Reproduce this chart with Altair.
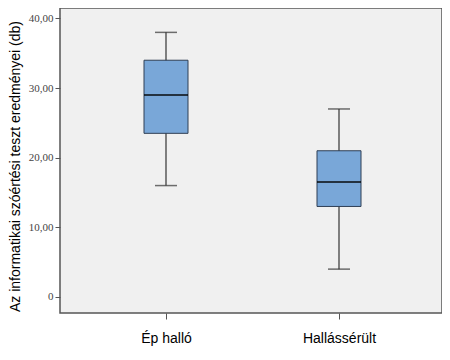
import altair as alt
import pandas as pd

groups = ["Ép halló", "Hallássérült"]
whisker_low = [16.0, 4.0]
q1 = [23.5, 13.0]
median = [29.0, 16.5]
q3 = [34.0, 21.0]
whisker_high = [38.0, 27.0]

df = pd.DataFrame({
    "group": groups,
    "lo": whisker_low,
    "q1": q1,
    "med": median,
    "q3": q3,
    "hi": whisker_high,
})

x_scale = alt.Scale(type="point", domain=groups, padding=0, range=[106, 279])
y_scale = alt.Scale(domain=[-2.3, 41.5], nice=False, zero=False)

x_enc = alt.X("group:N", scale=x_scale, sort=groups, axis=alt.Axis(
    title=None, labelFont="Liberation Sans", labelFontSize=14, labelColor="#000000",
    labelAngle=0, tickColor="#555555", tickSize=6, labelPadding=12, domain=False, grid=False))

y_axis = alt.Axis(
    values=[0, 10, 20, 30, 40],
    labelExpr="datum.value == 0 ? '0' : replace(format(datum.value, '.2f'), '.', ',')",
    labelFont="Liberation Serif", labelFontSize=11, labelColor="#444444",
    tickColor="#555555", tickSize=5, labelPadding=2, domain=False, grid=False,
    title="Az informatikai szóértési teszt eredményei (db)",
    titleFont="Liberation Sans", titleFontSize=14, titleFontWeight="normal", titleColor="#000000",
    titleAngle=-90, titleX=-45, titleY=158, titleAlign="center", titleBaseline="middle",
)

base = alt.Chart(df)

whisker = base.mark_rule(color="#333333", strokeWidth=1.2).encode(
    x=x_enc,
    y=alt.Y("lo:Q", scale=y_scale, axis=y_axis),
    y2="hi:Q",
)

box = base.mark_bar(size=44, color="#79a7d8", stroke="#2f3f55", strokeWidth=1).encode(
    x=alt.X("group:N", scale=x_scale, sort=groups),
    y=alt.Y("q1:Q", scale=y_scale),
    y2="q3:Q",
)

med = base.mark_tick(size=44, thickness=2, color="#000000").encode(
    x=alt.X("group:N", scale=x_scale, sort=groups),
    y=alt.Y("med:Q", scale=y_scale),
)

cap_hi = base.mark_tick(size=22, thickness=1.5, color="#333333").encode(
    x=alt.X("group:N", scale=x_scale, sort=groups),
    y=alt.Y("hi:Q", scale=y_scale),
)
cap_lo = base.mark_tick(size=22, thickness=1.5, color="#333333").encode(
    x=alt.X("group:N", scale=x_scale, sort=groups),
    y=alt.Y("lo:Q", scale=y_scale),
)

chart = alt.layer(whisker, box, med, cap_hi, cap_lo).properties(
    width=382,
    height=305,
    autosize=alt.AutoSizeParams(type="none"),
    padding={"left": 52, "top": 0, "right": 0, "bottom": 40},
    background="#ffffff",
).configure_view(
    fill="#f0f0f0", stroke="#555555", strokeWidth=1.5
)

chart.save("out.html", embed_options={"renderer": "svg", "actions": False})
